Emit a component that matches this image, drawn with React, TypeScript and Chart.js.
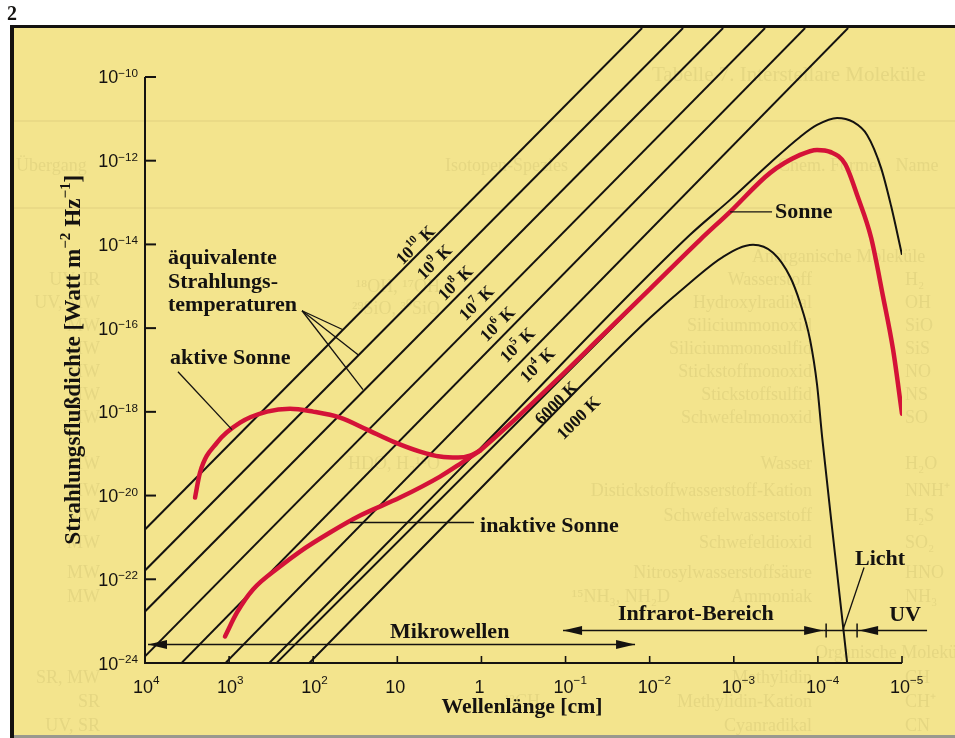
import React, { useEffect, useRef } from "react";
import { Chart, registerables } from "chart.js";

Chart.register(...registerables);

const W = 955;
const H = 738;

// ---------- axis ticks (decade exponents) ----------
const xTickExps = [4, 3, 2, 1, 0, -1, -2, -3, -4, -5];
const yTickExps = [-10, -12, -14, -16, -18, -20, -22, -24];
const Y_TOP_EXP = -8.83; // drawing area reaches up to the frame

// ---------- red curves (log10 wavelength [cm], log10 flux) ----------
const aktiveLambdaExp = [3.405, 3.346, 3.144, 2.87, 2.549, 2.276, 2.002, 1.681, 1.36, 1.051, 0.73, 0.492, 0.278, 0.136, 0.017];
const aktiveFluxExp = [-20.048, -19.451, -18.735, -18.258, -17.995, -17.924, -17.995, -18.138, -18.425, -18.711, -18.95, -19.069, -19.093, -19.045, -18.926];

const inaktiveLambdaExp = [3.049, 2.906, 2.716, 2.395, 2.157, 1.8, 1.443, 0.968, 0.492, 0.231, 0.017];
const inaktiveFluxExp = [-23.365, -22.792, -22.243, -21.695, -21.337, -20.883, -20.477, -20.048, -19.547, -19.212, -18.926];

const sonneLambdaExp = [0.017, -0.423, -0.899, -1.41, -2.005, -2.599, -2.956, -3.432, -3.788, -3.99, -4.145, -4.323, -4.478, -4.633, -4.775, -4.894, -5.0];
const sonneFluxExp = [-18.926, -18.138, -17.232, -16.229, -15.06, -13.89, -13.222, -12.291, -11.862, -11.742, -11.79, -12.076, -12.888, -13.842, -15.251, -16.516, -18.043];

// ---------- black curves ----------
// 10^4 K equivalent line turning over (upper black curve)
const bb1e4LambdaExp = [2.609, 0.017, -2.48, -2.956, -3.432, -3.788, -3.99, -4.228, -4.419, -4.585, -4.751, -4.87, -5.0];
const bb1e4FluxExp = [-24.177, -18.878, -13.771, -12.936, -12.053, -11.432, -11.146, -10.979, -11.074, -11.384, -12.172, -13.079, -14.248];
// 1000 K equivalent line turning over (lower black curve)
const bb1e3LambdaExp = [2.133, 0.314, -1.41, -2.005, -2.48, -2.873, -3.229, -3.467, -3.669, -3.788, -3.907, -3.99, -4.05, -4.204, -4.359];
const bb1e3FluxExp = [-24.177, -20.453, -16.921, -15.752, -14.916, -14.296, -14.01, -14.2, -14.773, -15.394, -16.277, -17.351, -18.592, -21.408, -24.2];

// straight equivalent-temperature lines: 10^10 ... 10^5 K, 6000 K
const tempLineStartLambdaExp = [4, 4, 4, 4, 3.56, 3.037, 2.43];
const tempLineStartFluxExp = [-20.811, -21.79, -22.768, -23.842, -23.986, -23.986, -23.986];
const tempLineEndLambdaExp = [-1.91, -2.397, -2.873, -3.372, -3.848, -4.359, -1.886];
const tempLineEndFluxExp = [-8.831, -8.831, -8.831, -8.831, -8.831, -8.831, -15.322];

// temperature labels
const tempLabelBase = ["10", "10", "10", "10", "10", "10", "10", "6000", "1000"];
const tempLabelSup = ["10", "9", "8", "7", "6", "5", "4", "", ""];
const tempLabelLambdaExp = [0.79, 0.564, 0.314, 0.064, -0.186, -0.423, -0.661, -0.887, -1.149];
const tempLabelFluxExp = [-14.01, -14.415, -14.916, -15.394, -15.895, -16.396, -16.874, -17.78, -18.138];

const RED = "rgb(212, 18, 56)";
const INK = "#141210";
const YELLOW = "#f3e48d";
const SERIF = '"Liberation Serif", "Times New Roman", serif';
const SANS = '"Liberation Sans", Arial, sans-serif';

const pts = (lx: number[], fy: number[]) =>
  lx.map((e, i) => ({ x: Math.pow(10, e), y: Math.pow(10, fy[i]) }));

type Seg = { t: string; sup?: boolean };

function richWidth(ctx: CanvasRenderingContext2D, segs: Seg[], size: number, family: string, weight: string) {
  let w = 0;
  for (const s of segs) {
    ctx.font = `${weight} ${s.sup ? size * 0.65 : size}px ${family}`;
    w += ctx.measureText(s.t).width;
  }
  return w;
}

function drawRich(ctx: CanvasRenderingContext2D, segs: Seg[], x: number, y: number, size: number, family: string, weight: string, supRaise = 0.42) {
  ctx.textAlign = "left";
  ctx.textBaseline = "alphabetic";
  let cx = x;
  for (const s of segs) {
    const fs = s.sup ? size * 0.65 : size;
    ctx.font = `${weight} ${fs}px ${family}`;
    ctx.fillText(s.t, cx, s.sup ? y - size * supRaise : y);
    cx += ctx.measureText(s.t).width;
  }
}

// faint print showing through the page (background only)
const ghost: [string, number, number, number, CanvasTextAlign][] = [
  ["Tabelle 7. Interstellare Moleküle", 652, 81, 21, "left"],
  ["Übergang", 16, 171, 18, "left"],
  ["Isotopen-Spezies", 445, 171, 18, "left"],
  ["Chem. Formel   Name", 778, 171, 18, "left"],
  ["Anorganische Moleküle", 752, 262, 18, "left"],
  ["Wasserstoff", 812, 285, 18, "right"],
  ["Hydroxylradikal", 812, 308, 18, "right"],
  ["Siliciummonoxid", 812, 331, 18, "right"],
  ["Siliciummonosulfid", 812, 354, 18, "right"],
  ["Stickstoffmonoxid", 812, 377, 18, "right"],
  ["Stickstoffsulfid", 812, 400, 18, "right"],
  ["Schwefelmonoxid", 812, 423, 18, "right"],
  ["Wasser", 812, 469, 18, "right"],
  ["Distickstoffwasserstoff-Kation", 812, 496, 18, "right"],
  ["Schwefelwasserstoff", 812, 521, 18, "right"],
  ["Schwefeldioxid", 812, 548, 18, "right"],
  ["Nitrosylwasserstoffsäure", 812, 578, 18, "right"],
  ["Ammoniak", 812, 602, 18, "right"],
  ["H₂", 905, 285, 18, "left"],
  ["OH", 905, 308, 18, "left"],
  ["SiO", 905, 331, 18, "left"],
  ["SiS", 905, 354, 18, "left"],
  ["NO", 905, 377, 18, "left"],
  ["NS", 905, 400, 18, "left"],
  ["SO", 905, 423, 18, "left"],
  ["H₂O", 905, 469, 18, "left"],
  ["NNH⁺", 905, 496, 18, "left"],
  ["H₂S", 905, 521, 18, "left"],
  ["SO₂", 905, 548, 18, "left"],
  ["HNO", 905, 578, 18, "left"],
  ["NH₃", 905, 602, 18, "left"],
  ["UV, IR", 100, 285, 18, "right"],
  ["UV, MW", 100, 308, 18, "right"],
  ["MW", 100, 331, 18, "right"],
  ["MW", 100, 354, 18, "right"],
  ["MW", 100, 377, 18, "right"],
  ["MW", 100, 400, 18, "right"],
  ["MW", 100, 423, 18, "right"],
  ["MW", 100, 469, 18, "right"],
  ["MW", 100, 496, 18, "right"],
  ["MW", 100, 521, 18, "right"],
  ["MW", 100, 548, 18, "right"],
  ["MW", 100, 578, 18, "right"],
  ["MW", 100, 602, 18, "right"],
  ["¹⁸OH, ¹⁷OH", 440, 292, 18, "right"],
  ["²⁹SiO, ³⁰SiO", 440, 314, 18, "right"],
  ["HDO, H₂¹⁸O", 440, 469, 18, "right"],
  ["¹⁵NH₃, NH₂D", 670, 602, 18, "right"],
  ["Organische Moleküle", 815, 658, 18, "left"],
  ["Methylidin", 812, 683, 18, "right"],
  ["Methylidin-Kation", 812, 707, 18, "right"],
  ["Cyanradikal", 812, 731, 18, "right"],
  ["¹³CH", 540, 707, 18, "right"],
  ["CH", 905, 683, 18, "left"],
  ["CH⁺", 905, 707, 18, "left"],
  ["CN", 905, 731, 18, "left"],
  ["SR, MW", 100, 683, 18, "right"],
  ["SR", 100, 707, 18, "right"],
  ["UV, SR", 100, 731, 18, "right"],
];

const backgroundPlugin = {
  id: "paper",
  beforeDraw(chart: any) {
    const ctx: CanvasRenderingContext2D = chart.ctx;
    ctx.save();
    ctx.fillStyle = "#ffffff";
    ctx.fillRect(0, 0, W, H);
    ctx.fillStyle = YELLOW;
    ctx.fillRect(14, 28, W - 14, H - 31);
    // faint rules and show-through print
    ctx.strokeStyle = "rgba(120,105,50,0.09)";
    ctx.lineWidth = 1.5;
    [121, 208].forEach((y) => {
      ctx.beginPath();
      ctx.moveTo(14, y);
      ctx.lineTo(W, y);
      ctx.stroke();
    });
    ctx.fillStyle = "rgba(120,105,50,0.11)";
    ctx.textBaseline = "alphabetic";
    ghost.forEach(([t, x, y, s, a]) => {
      ctx.font = `${s}px ${SERIF}`;
      ctx.textAlign = a;
      ctx.fillText(t, x, y);
    });
    // frame
    ctx.fillStyle = INK;
    ctx.fillRect(10, 25, W - 10, 3);
    ctx.fillRect(10, 25, 4, H - 25);
    ctx.fillStyle = "rgba(70,70,50,0.55)";
    ctx.fillRect(14, 735, W - 14, 3);
    // page number
    ctx.fillStyle = INK;
    ctx.font = `bold 20px ${SERIF}`;
    ctx.textAlign = "left";
    ctx.fillText("2", 7, 20);
    ctx.restore();
  },
};

const overlayPlugin = {
  id: "overlay",
  afterDatasetsDraw(chart: any) {
    const ctx: CanvasRenderingContext2D = chart.ctx;
    const xs = chart.scales.x;
    const ys = chart.scales.y;
    const X = (e: number) => xs.getPixelForValue(Math.pow(10, e));
    const Y = (e: number) => ys.getPixelForValue(Math.pow(10, e));
    const x0 = X(4);
    const yBottom = Y(-24);
    ctx.save();
    ctx.fillStyle = INK;
    ctx.strokeStyle = INK;

    // axes
    ctx.lineWidth = 2;
    ctx.beginPath();
    ctx.moveTo(x0, Y(-10));
    ctx.lineTo(x0, yBottom);
    ctx.lineTo(X(-5), yBottom);
    ctx.stroke();

    // y ticks and labels
    yTickExps.forEach((e) => {
      const y = Y(e);
      ctx.lineWidth = 2;
      ctx.beginPath();
      ctx.moveTo(x0, y);
      ctx.lineTo(x0 + 11, y);
      ctx.stroke();
      const segs: Seg[] = [{ t: "10" }, { t: "−" + Math.abs(e), sup: true }];
      const w = richWidth(ctx, segs, 18, SANS, "normal");
      drawRich(ctx, segs, x0 - 7 - w, y + 6.5, 18, SANS, "normal", 0.36);
    });

    // x ticks and labels
    xTickExps.forEach((e) => {
      const x = X(e);
      if (e !== 4) {
        ctx.lineWidth = 1.6;
        ctx.beginPath();
        ctx.moveTo(x, yBottom);
        ctx.lineTo(x, yBottom - 7);
        ctx.stroke();
      }
      const base = e === 0 ? "1" : "10";
      ctx.font = `normal 18px ${SANS}`;
      const bw = ctx.measureText(base).width;
      const segs: Seg[] = [{ t: base }];
      if (e !== 0 && e !== 1) segs.push({ t: e > 0 ? String(e) : "−" + Math.abs(e), sup: true });
      drawRich(ctx, segs, x - bw / 2 - 2, yBottom + 29.5, 18, SANS, "normal", 0.45);
    });

    // axis titles
    ctx.fillStyle = INK;
    const xt = "Wellenlänge [cm]";
    ctx.font = `bold 22px ${SERIF}`;
    const xtw = ctx.measureText(xt).width;
    const xts = 22 * (161 / xtw);
    ctx.font = `bold ${xts}px ${SERIF}`;
    ctx.textAlign = "center";
    ctx.textBaseline = "alphabetic";
    ctx.fillText(xt, X(-0.483), yBottom + 50);

    const ySegs: Seg[] = [
      { t: "Strahlungsflußdichte [Watt m" },
      { t: "−2", sup: true },
      { t: " Hz" },
      { t: "−1", sup: true },
      { t: "]" },
    ];
    const yw0 = richWidth(ctx, ySegs, 22, SERIF, "bold");
    const yts = 22 * (370 / yw0);
    const ytw = richWidth(ctx, ySegs, yts, SERIF, "bold");
    ctx.save();
    ctx.translate(x0 - 65, Y(-16.754));
    ctx.rotate(-Math.PI / 2);
    drawRich(ctx, ySegs, -ytw / 2, 0, yts, SERIF, "bold", 0.42);
    ctx.restore();

    // temperature labels (rotated along the lines)
    tempLabelBase.forEach((b, i) => {
      const segs: Seg[] = [{ t: b }];
      if (tempLabelSup[i]) segs.push({ t: tempLabelSup[i], sup: true });
      segs.push({ t: " K" });
      const size = 17.5;
      const w = richWidth(ctx, segs, size, SERIF, "bold");
      ctx.save();
      ctx.translate(X(tempLabelLambdaExp[i]), Y(tempLabelFluxExp[i]));
      ctx.rotate(-Math.PI / 4);
      drawRich(ctx, segs, -w / 2, size * 0.34, size, SERIF, "bold", 0.45);
      ctx.restore();
    });

    // annotation texts
    const notes: [string, number, number][] = [
      ["äquivalente", 3.727, -14.463],
      ["Strahlungs-", 3.727, -15.036],
      ["temperaturen", 3.727, -15.585],
      ["aktive Sonne", 3.703, -16.85],
      ["Sonne", -3.491, -13.365],
      ["inaktive Sonne", 0.017, -20.859],
      ["Licht", -4.442, -21.647],
      ["Infrarot-Bereich", -1.624, -22.983],
      ["UV", -4.847, -23.007],
      ["Mikrowellen", 1.087, -23.413],
    ];
    ctx.font = `bold 22px ${SERIF}`;
    ctx.textAlign = "left";
    ctx.textBaseline = "alphabetic";
    notes.forEach(([t, le, fe]) => ctx.fillText(t, X(le), Y(fe)));

    // leader lines
    const seg = (a: number[], b: number[], lw = 1.3) => {
      ctx.lineWidth = lw;
      ctx.beginPath();
      ctx.moveTo(X(a[0]), Y(a[1]));
      ctx.lineTo(X(b[0]), Y(b[1]));
      ctx.stroke();
    };
    const apex = [2.133, -15.585];
    seg(apex, [1.646, -16.038]);
    seg(apex, [1.467, -16.635]);
    seg(apex, [1.408, -17.47]);
    seg([3.608, -17.041], [2.966, -18.425]);
    seg([-2.956, -13.222], [-3.455, -13.222]);
    seg([1.562, -20.644], [0.088, -20.644]);
    seg([-4.549, -21.718], [-4.3, -23.198]);

    // range arrows
    const head = (le: number, fe: number, dir: number) => {
      const tx = X(le);
      const ty = Y(fe);
      ctx.beginPath();
      ctx.moveTo(tx, ty);
      ctx.lineTo(tx - dir * 19, ty - 4.5);
      ctx.lineTo(tx - dir * 19, ty + 4.5);
      ctx.closePath();
      ctx.fill();
    };
    seg([3.964, -23.556], [-1.826, -23.556], 1.5);
    head(3.964, -23.556, -1);
    head(-1.826, -23.556, 1);
    seg([-0.97, -23.222], [-4.062, -23.222], 1.5);
    head(-0.97, -23.222, -1);
    head(-4.062, -23.222, 1);
    seg([-4.062, -23.222], [-5.298, -23.222], 1.5);
    head(-4.49, -23.222, -1);
    seg([-4.098, -23.055], [-4.098, -23.389], 1.5);
    seg([-4.466, -23.055], [-4.466, -23.389], 1.5);

    ctx.restore();
  },
};

export default function App() {
  const ref = useRef<HTMLCanvasElement>(null);

  useEffect(() => {
    const canvas = ref.current;
    if (!canvas) return;

    const black = (data: any[], smooth: boolean) => ({
      data,
      showLine: true,
      borderColor: INK,
      borderWidth: 2,
      pointRadius: 0,
      fill: false,
      clip: 0,
      tension: 0,
      cubicInterpolationMode: smooth ? "monotone" : "default",
      order: 2,
    });
    const red = (data: any[]) => ({
      data,
      showLine: true,
      borderColor: RED,
      borderWidth: 4.5,
      pointRadius: 0,
      fill: false,
      clip: 0,
      cubicInterpolationMode: "monotone",
      borderCapStyle: "round",
      borderJoinStyle: "round",
      order: 0,
    });

    const datasets: any[] = [];
    tempLineStartLambdaExp.forEach((_, i) => {
      datasets.push(
        black(
          pts(
            [tempLineStartLambdaExp[i], tempLineEndLambdaExp[i]],
            [tempLineStartFluxExp[i], tempLineEndFluxExp[i]]
          ),
          false
        )
      );
    });
    datasets.push({ ...black(pts(bb1e4LambdaExp, bb1e4FluxExp), true), order: 1 });
    datasets.push({ ...black(pts(bb1e3LambdaExp, bb1e3FluxExp), true), order: 1 });
    datasets.push(red(pts(aktiveLambdaExp, aktiveFluxExp)));
    datasets.push(red(pts(inaktiveLambdaExp, inaktiveFluxExp)));
    datasets.push(red(pts(sonneLambdaExp, sonneFluxExp)));

    const chart = new Chart(canvas, {
      type: "scatter",
      data: { datasets },
      options: {
        animation: false,
        responsive: false,
        maintainAspectRatio: false,
        events: [],
        layout: { padding: { left: 145, right: W - 902, top: 28, bottom: H - 663 } },
        scales: {
          x: { type: "logarithmic", reverse: true, min: 1e-5, max: 1e4, display: false },
          y: { type: "logarithmic", min: 1e-24, max: Math.pow(10, Y_TOP_EXP), display: false },
        },
        plugins: { legend: { display: false }, tooltip: { enabled: false } },
      } as any,
      plugins: [backgroundPlugin, overlayPlugin],
    });
    return () => chart.destroy();
  }, []);

  return (
    <div style={{ position: "fixed", left: 0, top: 0, width: W, height: H, background: "#fff" }}>
      <canvas ref={ref} width={W} height={H} style={{ width: W, height: H, display: "block" }} />
    </div>
  );
}
